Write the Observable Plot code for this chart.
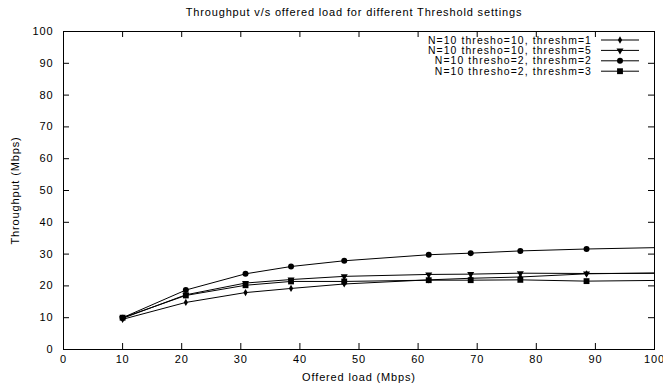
<!DOCTYPE html>
<html>
<head>
<meta charset="utf-8">
<script src="https://cdn.jsdelivr.net/npm/d3@7"></script>
<script src="https://cdn.jsdelivr.net/npm/@observablehq/plot@0.6"></script>
<style>
  html, body { margin: 0; padding: 0; background: #fff; }
  svg { display: block; }
  svg text { letter-spacing: 0.85px; }
  svg .legend text { letter-spacing: 1.1px; }
</style>
</head>
<body>
<div id="chart"></div>
<script>
const load = [10, 20.7, 30.8, 38.5, 47.5, 61.8, 68.9, 77.3, 88.5, 110];
const seriesNames = [
  "N=10 thresho=10, threshm=1",
  "N=10 thresho=10, threshm=5",
  "N=10 thresho=2, threshm=2",
  "N=10 thresho=2, threshm=3"
];
const s1 = [9.5, 14.8, 17.9, 19.2, 20.6, 21.9, 22.4, 22.8, 23.8, 24.3];
const s2 = [9.8, 17.2, 20.9, 22.0, 23.0, 23.6, 23.7, 24.0, 23.9, 24.0];
const s3 = [10.0, 18.7, 23.8, 26.1, 27.9, 29.8, 30.3, 31.0, 31.6, 32.4];
const s4 = [10.0, 17.0, 20.2, 21.4, 21.4, 21.8, 21.8, 21.9, 21.5, 21.9];
const xTicks = [0, 10, 20, 30, 40, 50, 60, 70, 80, 90, 100];
const yTicks = [0, 10, 20, 30, 40, 50, 60, 70, 80, 90, 100];

const seriesValues = [s1, s2, s3, s4];
const symbols = ["diamond", "triangle", "circle", "square"];
const symR = [2.2, 2.6, 3.0, 3.3];
const rot = [0, 180, 0, 0];

const rows = [];
seriesValues.forEach((vals, i) => {
  vals.forEach((v, j) => rows.push({series: seriesNames[i], idx: i, x: load[j], y: v}));
});

const W = 663, H = 384;
const mL = 63, mR = 9, mT = 31, mB = 35;
const innerW = W - mL - mR, innerH = H - mT - mB;
const font = "'Liberation Sans', Arial, Helvetica, sans-serif";
const fs = 11;

const marks = [
  Plot.frame({stroke: "#000", strokeWidth: 1}),
  Plot.tickX(xTicks, {x: d => d, insetTop: innerH - 6, stroke: "#000"}),
  Plot.tickX(xTicks, {x: d => d, insetBottom: innerH - 6, stroke: "#000"}),
  Plot.tickY(yTicks, {y: d => d, insetRight: innerW - 6, stroke: "#000"}),
  Plot.tickY(yTicks, {y: d => d, insetLeft: innerW - 6, stroke: "#000"}),
  Plot.axisX(xTicks, {tickSize: 0, tickPadding: 6, fontSize: fs, label: "Offered load (Mbps)", labelAnchor: "center", labelArrow: "none", labelOffset: 31}),
  Plot.axisY(yTicks, {tickSize: 0, tickPadding: 10, fontSize: fs, label: "Throughput (Mbps)", labelAnchor: "center", labelArrow: "none", labelOffset: 52})
];
seriesValues.forEach((vals, i) => {
  const data = rows.filter(r => r.idx === i);
  marks.push(Plot.line(data, {x: "x", y: "y", stroke: "#000", strokeWidth: 1, clip: true}));
  marks.push(Plot.dot(data, {x: "x", y: "y", symbol: () => symbols[i], r: symR[i], rotate: rot[i], fill: "#000", stroke: "none", clip: true}));
});

const plot = Plot.plot({
  width: W, height: H,
  marginLeft: mL, marginRight: mR, marginTop: mT, marginBottom: mB,
  style: {fontFamily: font, fontSize: fs + "px", background: "#fff", color: "#000", overflow: "visible"},
  x: {domain: [0, 100]},
  y: {domain: [0, 100]},
  symbol: {type: "identity"},
  marks
});

const svg = d3.select(plot);
svg.append("text")
  .attr("x", 354).attr("y", 16)
  .attr("text-anchor", "middle")
  .attr("font-family", font).attr("font-size", fs)
  .text("Throughput v/s offered load for different Threshold settings");

const lg = svg.append("g").attr("class", "legend").attr("font-family", font).attr("font-size", 10.4);
const legendY0 = 40, legendDy = 10.4;
seriesNames.forEach((name, i) => {
  const y = legendY0 + i * legendDy;
  lg.append("text").attr("x", 592).attr("y", y).attr("dy", "0.35em").attr("text-anchor", "end").text(name);
  lg.append("line").attr("x1", 601).attr("x2", 639).attr("y1", y).attr("y2", y).attr("stroke", "#000");
  const sym = d3.symbol().type({diamond: d3.symbolDiamond, triangle: d3.symbolTriangle, circle: d3.symbolCircle, square: d3.symbolSquare}[symbols[i]]).size(Math.PI * symR[i] * symR[i]);
  lg.append("path").attr("d", sym()).attr("transform", `translate(620,${y}) rotate(${rot[i]})`).attr("fill", "#000");
});

document.getElementById("chart").appendChild(plot);
</script>
</body>
</html>
